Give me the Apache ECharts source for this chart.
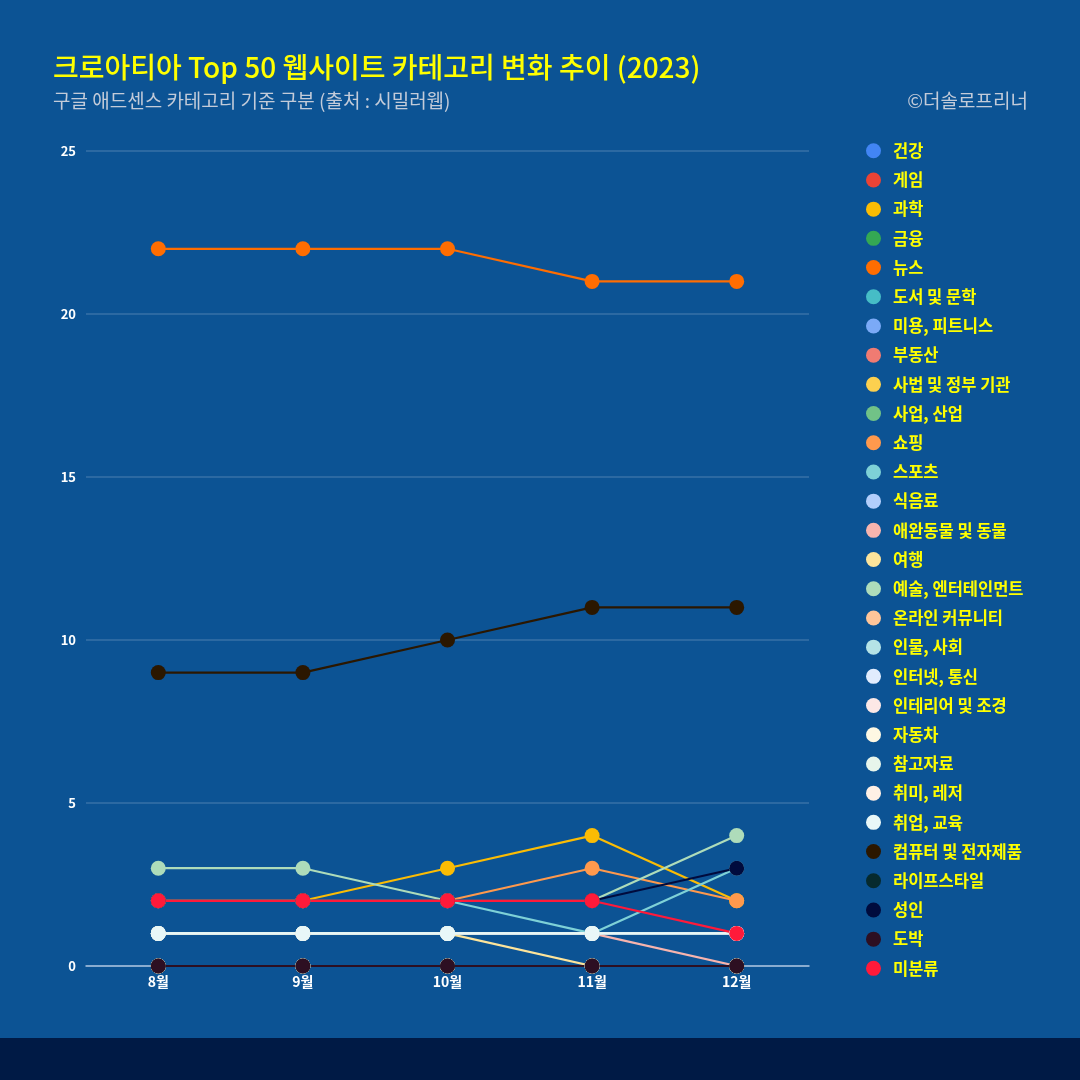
<!DOCTYPE html>
<html>
<head>
<meta charset="utf-8">
<script src="https://cdn.jsdelivr.net/npm/echarts@6/dist/echarts.min.js"></script>
<style>
html,body{margin:0;padding:0;background:#001a45;}
#chart{width:1080px;height:1038px;}
</style>
</head>
<body>
<div id="chart"></div>
<script>
const months = ['8월','9월','10월','11월','12월'];
const yTicks = [0,5,10,15,20,25];
const seriesNames = ['건강','게임','과학','금융','뉴스','도서 및 문학','미용, 피트니스','부동산','사법 및 정부 기관','사업, 산업','쇼핑','스포츠','식음료','애완동물 및 동물','여행','예술, 엔터테인먼트','온라인 커뮤니티','인물, 사회','인터넷, 통신','인테리어 및 조경','자동차','참고자료','취미, 레저','취업, 교육','컴퓨터 및 전자제품','라이프스타일','성인','도박','미분류'];
const seriesColors = ['#4285f4','#ea4335','#fbbc04','#34a853','#ff6d01','#46bdc6','#7baaf7','#f07b72','#fcd04f','#71c287','#ff994d','#7ed1d7','#b3cefb','#f7b4ae','#fde49b','#aedcba','#ffc599','#b5e3e6','#e1ecfd','#fce8e6','#fef8e3','#e7f5eb','#fff0e5','#e8f7f8','#2b1700','#062a2e','#000b3d','#2d0f22','#ff1a3a'];
const 건강 = [0,0,0,0,0];
const 게임 = [0,0,0,0,0];
const 과학 = [2,2,3,4,2];
const 금융 = [0,0,0,0,0];
const 뉴스 = [22,22,22,21,21];
const 도서 = [0,0,0,0,0];
const 미용 = [0,0,0,0,0];
const 부동산 = [0,0,0,0,0];
const 사법 = [0,0,0,0,0];
const 사업 = [0,0,0,0,0];
const 쇼핑 = [2,2,2,3,2];
const 스포츠 = [2,2,2,1,3];
const 식음료 = [0,0,0,0,0];
const 애완동물 = [1,1,1,1,0];
const 여행 = [1,1,1,0,0];
const 예술 = [3,3,2,2,4];
const 온라인커뮤니티 = [0,0,0,0,0];
const 인물사회 = [0,0,0,0,0];
const 인터넷통신 = [1,1,1,1,1];
const 인테리어 = [0,0,0,0,0];
const 자동차 = [0,0,0,0,0];
const 참고자료 = [1,1,1,1,1];
const 취미 = [0,0,0,0,0];
const 취업교육 = [1,1,1,1,1];
const 컴퓨터 = [9,9,10,11,11];
const 라이프스타일 = [0,0,0,0,0];
const 성인 = [2,2,2,2,3];
const 도박 = [0,0,0,0,0];
const 미분류 = [2,2,2,2,1];
const seriesValues = [건강,게임,과학,금융,뉴스,도서,미용,부동산,사법,사업,쇼핑,스포츠,식음료,애완동물,여행,예술,온라인커뮤니티,인물사회,인터넷통신,인테리어,자동차,참고자료,취미,취업교육,컴퓨터,라이프스타일,성인,도박,미분류];

const FONT = "'Noto Sans CJK KR', 'Noto Sans', sans-serif";
const chart = echarts.init(document.getElementById('chart'));
chart.setOption({
  backgroundColor: '#0c5394',
  animation: false,
  textStyle: {fontFamily: FONT},
  title: [
    {text: '크로아티아 Top 50 웹사이트 카테고리 변화 추이 (2023)', left: 48, top: 48, padding: 5,
     textStyle: {color: '#ffff00', fontSize: 28, fontWeight: 500, fontFamily: FONT}},
    {text: '구글 애드센스 카테고리 기준 구분 (출처 : 시밀러웹)', left: 48, top: 86, padding: 5,
     textStyle: {color: '#c3cbd9', fontSize: 19, fontWeight: 'normal', fontFamily: FONT}},
    {text: '©더솔로프리너', right: 47, top: 86, padding: 5,
     textStyle: {color: '#c3cbd9', fontSize: 19, fontWeight: 'normal', fontFamily: FONT}}
  ],
  legend: {
    orient: 'vertical', left: 866, top: 142.5, padding: 0,
    icon: 'circle', itemWidth: 15, itemHeight: 15, itemGap: 12.7,
    textStyle: {color: '#ffff00', fontSize: 16.5, fontWeight: 'bold', fontFamily: FONT, padding: [0, 0, 0, 7]},
    data: seriesNames
  },
  grid: {left: 86, right: 271, top: 151, bottom: 1038 - 966},
  xAxis: {
    type: 'category', data: months, boundaryGap: true,
    axisLine: {lineStyle: {color: '#a9c2df', width: 1.5}},
    axisTick: {show: false},
    axisLabel: {color: '#ffffff', fontSize: 14, fontWeight: 'bold', margin: 9}
  },
  yAxis: {
    type: 'value', min: yTicks[0], max: yTicks[yTicks.length-1], interval: yTicks[1]-yTicks[0],
    axisLine: {show: false}, axisTick: {show: false},
    axisLabel: {color: '#ffffff', fontSize: 13, fontWeight: 'bold', margin: 10},
    splitLine: {lineStyle: {color: 'rgba(255,255,255,0.18)', width: 1.5}}
  },
  series: seriesNames.map((n, i) => ({
    name: n, type: 'line', data: seriesValues[i],
    color: seriesColors[i],
    symbol: 'circle', symbolSize: 15, showAllSymbol: true,
    lineStyle: {width: 2.2, color: seriesColors[i]},
    itemStyle: {color: seriesColors[i]}
  }))
});
</script>
</body>
</html>
